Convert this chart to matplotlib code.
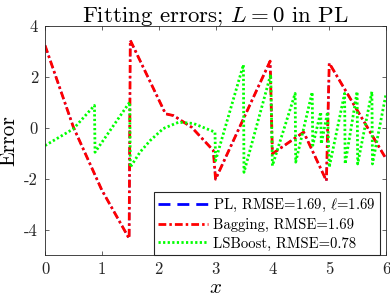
import matplotlib
matplotlib.use("Agg")
import matplotlib.pyplot as plt
from matplotlib.lines import Line2D

plt.rcParams["font.family"] = "serif"
plt.rcParams["font.serif"] = ["cmr10", "DejaVu Serif"]
plt.rcParams["mathtext.fontset"] = "cm"
plt.rcParams["axes.unicode_minus"] = False

# error curves (PL coincides with Bagging)
X_BAG = [0.0, 0.5, 1.0, 1.48, 1.5, 2.12, 2.26, 2.58, 2.96, 3.0, 3.96, 4.0, 4.55, 4.95, 5.0, 6.0]
Y_BAG = [3.24, 0.02, -2.45, -4.35, 3.44, 0.55, 0.48, 0.02, -0.89, -2.02, 2.62, -1.02, -0.17, -2.08, 2.54, -1.22]
X_PL = X_BAG
Y_PL = Y_BAG
X_LSB = [0.0, 0.5, 0.87, 0.88, 1.49, 1.5, 1.67, 1.85, 2.08, 2.35, 2.61, 2.99, 3.0, 3.49, 3.5,
         3.97, 4.0, 4.40, 4.41, 4.70, 4.71, 4.85, 4.86, 4.97, 5.0, 5.27, 5.28, 5.49, 5.5,
         5.75, 5.76, 6.0]
Y_LSB = [-0.70, -0.04, 0.88, -0.96, 1.01, -1.55, -0.96, -0.50, -0.03, 0.22, 0.17, -0.17, -1.29, 2.48, -1.75,
         2.10, -1.49, 1.35, -1.35, 1.40, -0.69, 0.62, -0.63, 0.62, -1.55, 1.35, -1.42, 1.42, -1.42,
         1.42, -1.42, 1.35]

LABELS = [r"PL, RMSE=1.69, $\ell$=1.69", "Bagging, RMSE=1.69", "LSBoost, RMSE=0.78"]
XTICKS = [0, 1, 2, 3, 4, 5, 6]
YTICKS = [-4, -2, 0, 2, 4]
YTICKLABELS = ["-4", "-2", "0", "2", "4"]

BLUE, RED, GREEN = (0, 0, 1), (1, 0, 0), (0, 1, 0)
DASH_PL = (4.3, 2.5)
DASH_BAG = (2.8, 1.1, 0.9, 1.1)
DASH_LSB = (0.8, 0.85)

fig = plt.figure(figsize=(3.9, 2.99), dpi=100)
ax = fig.add_axes([0.1154, 0.147, 0.8746, 0.766])

# PL sits exactly under Bagging, so it is hidden in the plot
ax.plot(X_PL, Y_PL, color=BLUE, lw=1.4, dashes=(2.8 * 2 / 1.4, 1.1 * 2 / 1.4, 0.9 * 2 / 1.4, 1.1 * 2 / 1.4))
ax.plot(X_BAG, Y_BAG, color=RED, lw=2, dashes=DASH_BAG)
ax.plot(X_LSB, Y_LSB, color=GREEN, lw=2, dashes=DASH_LSB)

ax.set_xlim(0, 6)
ax.set_ylim(-5, 4)
ax.set_xticks(XTICKS)
ax.set_xticklabels([str(t) for t in XTICKS])
ax.set_yticks(YTICKS)
ax.set_yticklabels(YTICKLABELS)
ax.tick_params(direction="in", top=True, right=True, length=3, width=0.5,
               colors=(0.15, 0.15, 0.15), labelsize=12, pad=5)
for sp in ax.spines.values():
    sp.set_color((0.15, 0.15, 0.15))
    sp.set_linewidth(0.6)

ax.set_xlabel("$x$", fontsize=15, labelpad=1)
ax.set_ylabel("Error", fontsize=15.5, labelpad=4)
ax.set_title(r"Fitting errors; $L=0$ in PL", fontsize=16.5, pad=3)

handles = [
    Line2D([], [], color=BLUE, lw=2, dashes=DASH_PL),
    Line2D([], [], color=RED, lw=2, dashes=DASH_BAG),
    Line2D([], [], color=GREEN, lw=2, dashes=DASH_LSB),
]
leg = ax.legend(handles, LABELS, loc="lower right", bbox_to_anchor=(0.9825, 0.0),
                fontsize=10.6, handlelength=3.4, handletextpad=0.35,
                labelspacing=0.3, borderpad=0.3, borderaxespad=0.0, fancybox=False,
                framealpha=1, edgecolor=(0.15, 0.15, 0.15))
leg.get_frame().set_linewidth(0.8)

fig.savefig("out.png", dpi=100)
